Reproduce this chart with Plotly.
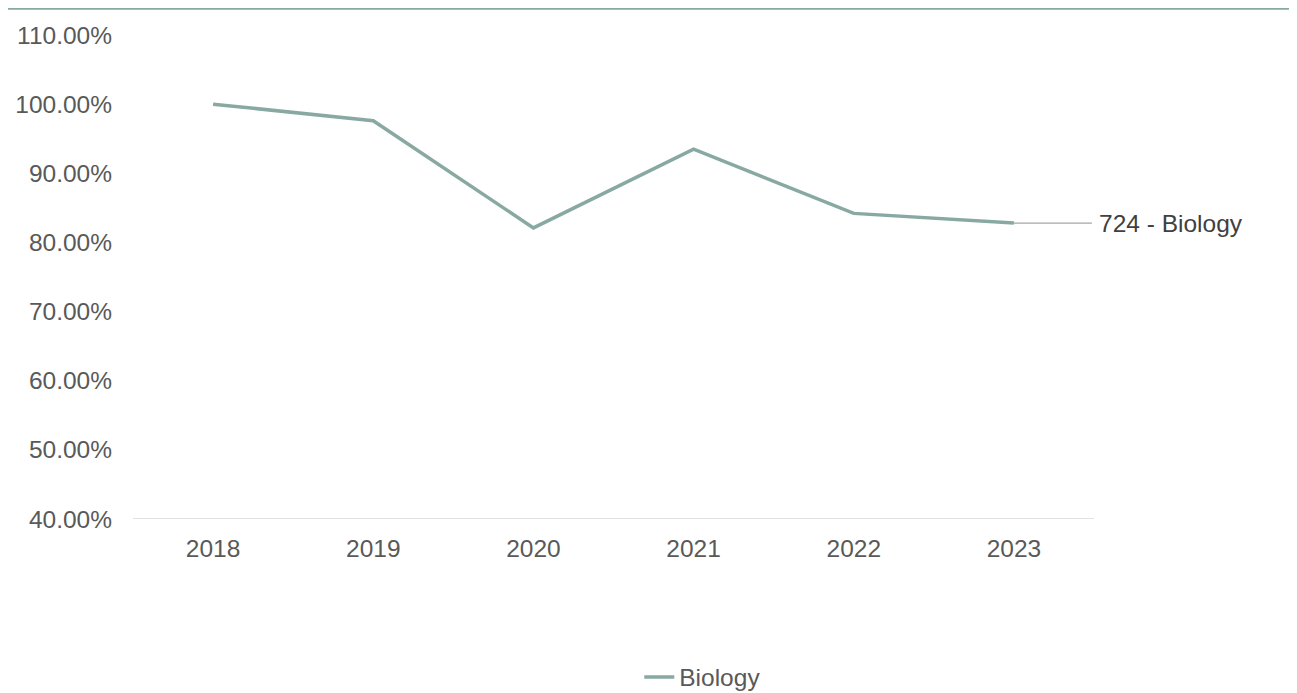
import plotly.graph_objects as go

years = ["2018", "2019", "2020", "2021", "2022", "2023"]
biology = [1.000, 0.976, 0.821, 0.935, 0.842, 0.828]
series_name = "Biology"
label_text = "724 - Biology"
y_ticks = [0.4, 0.5, 0.6, 0.7, 0.8, 0.9, 1.0, 1.1]

LINE_COLOR = "#88A9A2"
TEXT_COLOR = "#595959"
FONT = "Liberation Sans, Arial, sans-serif"
FS = 24.5

fig = go.Figure()
fig.add_trace(go.Scatter(
    x=years, y=biology, mode="lines", name=series_name,
    line=dict(color=LINE_COLOR, width=3.5),
))

# label for last point (index-based x on the category axis)
fig.add_annotation(
    x=len(years) - 1, y=biology[-1], xref="x", yref="y",
    text=label_text, showarrow=True, arrowhead=0, arrowwidth=1.25,
    arrowcolor="#A6A6A6", ax=78, ay=0, xanchor="left",
    font=dict(size=FS, color="#404040", family=FONT),
    standoff=0, borderpad=6,
)

fig.add_shape(type="line", xref="paper", yref="paper",
              x0=-0.14, x1=1.25, y0=1.0555, y1=1.0555,
              line=dict(color=LINE_COLOR, width=3))

fig.update_layout(
    width=1289, height=685,
    margin=dict(l=125, r=203, t=27, b=174, autoexpand=False),
    paper_bgcolor="white", plot_bgcolor="white",
    font=dict(family=FONT, size=FS, color=TEXT_COLOR),
    showlegend=True,
    legend=dict(orientation="h", xref="container", yref="container",
                x=0.539, xanchor="center", y=0.0234, yanchor="middle",
                font=dict(size=FS, color=TEXT_COLOR)),
    xaxis=dict(type="category", categoryorder="array", categoryarray=years,
               range=[-0.5, len(years) - 0.5], showgrid=False, zeroline=False,
               showline=False, ticks="", automargin=False,
               ticklabelstandoff=12,
               tickfont=dict(size=FS, color=TEXT_COLOR)),
    yaxis=dict(range=[0.4, 1.1], tickvals=y_ticks, tickformat=".2%",
               showgrid=False, zeroline=False, showline=False, ticks="",
               automargin=False, ticklabelstandoff=20,
               tickfont=dict(size=FS, color=TEXT_COLOR)),
)

fig.add_shape(type="line", xref="paper", yref="y", x0=0, x1=1,
              y0=y_ticks[0], y1=y_ticks[0],
              line=dict(color="#D9D9D9", width=1.5), layer="below")

fig.write_html("out.html")
